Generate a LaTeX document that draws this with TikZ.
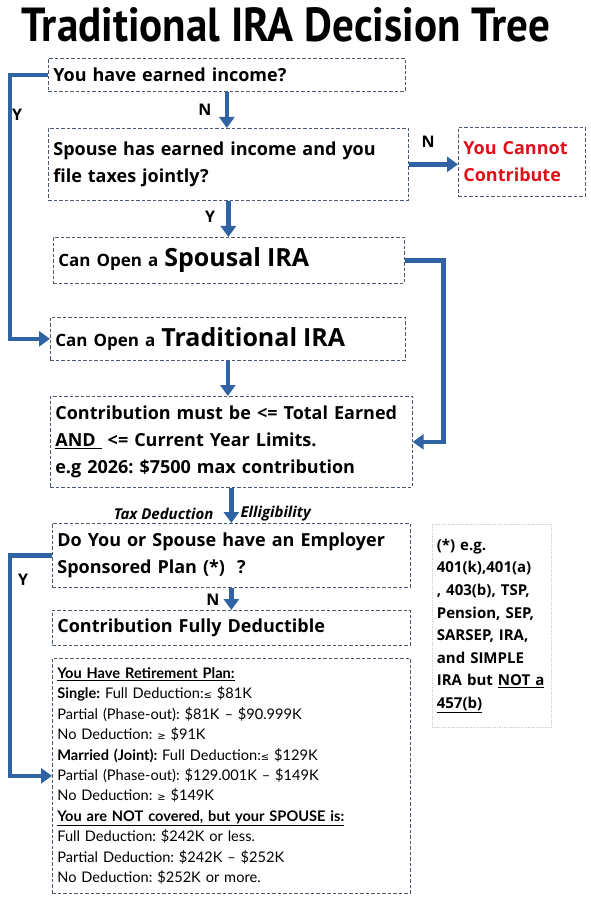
\documentclass[tikz,border=0pt]{standalone}
\usepackage{fontspec}
\setmainfont{Open Sans}
\newfontfamily\detailfont{Lato}
\newfontfamily\symfont{DejaVu Sans}
\newfontfamily\titlefont{PT Sans}
\usetikzlibrary{arrows.meta}
\definecolor{flowblue}{HTML}{2F63A3}
\definecolor{nored}{HTML}{E0101A}
\definecolor{boxline}{HTML}{4D5B6E}
\newcommand{\lesym}{{\symfont\fontsize{10}{10}\selectfont ≤}}
\newcommand{\gesym}{{\symfont\fontsize{10}{10}\selectfont ≥}}
\frenchspacing

\begin{document}
\begin{tikzpicture}[x=1pt,y=-1pt,
  box/.style={draw=boxline, dash pattern=on 3.5pt off 2pt, line width=0.7pt,
    anchor=north west, align=left, inner xsep=5pt, inner ysep=0pt,
    font=\bfseries\fontsize{18}{27}\selectfont},
  flow/.style={draw=flowblue, line width=4.5pt, -{Triangle[length=11pt,width=15pt]}},
  lbl/.style={font=\bfseries\fontsize{16}{18}\selectfont},
  tag/.style={font=\bfseries\itshape\fontsize{15}{16}\selectfont}]
  \useasboundingbox[fill=white] (0,0) rectangle (590,901);
  \node[anchor=base] (title) at (286,42)
    {\resizebox{528pt}{34pt}{\titlefont\bfseries Traditional IRA Decision Tree}};

  % question boxes
  \node[box, text width=347, minimum height=33] (earn) at (48,58) {You have earned income?};
  \node[box, text width=350, minimum height=72] (spouse) at (48,128)
    {Spouse has earned income and you\\file taxes jointly?};
  \node[box, text width=117, minimum height=69, text=nored] (cannot) at (458,127)
    {You Cannot\\Contribute};
  \node[box, text width=341, minimum height=46] (spousal) at (53,237)
    {{\fontsize{17}{27}\selectfont Can Open a} {\fontsize{25}{27}\selectfont Spousal IRA}};
  \node[box, text width=345, minimum height=43] (trad) at (50,317)
    {{\fontsize{17}{27}\selectfont Can Open a} {\fontsize{25}{27}\selectfont Traditional IRA}};
  \node[box, text width=352, minimum height=91] (contrib) at (50,396)
    {Contribution must be <= Total Earned\\\underline{AND\ } <= Current Year Limits.\\e.g 2026: \$7500 max contribution};
  \node[box, text width=348, minimum height=64] (employer) at (52,523)
    {Do You or Spouse have an Employer\\Sponsored Plan (*)\ \ ?};
  \node[box, text width=348, minimum height=35] (fully) at (52,610)
    {Contribution Fully Deductible};
  \node[box, text width=348, minimum height=235, font=\detailfont\fontsize{14.6}{20.4}\selectfont] (plan) at (52,658)
    {\textbf{\underline{You Have Retirement Plan:}}\\
     \textbf{Single:} Full Deduction:\lesym\ \$81K\\
     Partial (Phase-out): \$81K – \$90.999K\\
     No Deduction: \gesym\ \$91K\\
     \textbf{Married (Joint):} Full Deduction:\lesym\ \$129K\\
     Partial (Phase-out): \$129.001K – \$149K\\
     No Deduction: \gesym\ \$149K\\
     \textbf{\underline{You are NOT covered, but your SPOUSE is:}}\\
     Full Deduction: \$242K or less.\\
     Partial Deduction: \$242K – \$252K\\
     No Deduction: \$252K or more.};
  \node[box, draw=gray!35, densely dotted, text width=110, inner xsep=4.5pt, minimum height=203,
    font=\bfseries\fontsize{15}{22.6}\selectfont] (note) at (432,524)
    {(*) e.g.\\401(k),401(a)\\, 403(b), TSP,\\Pension, SEP,\\SARSEP, IRA,\\and SIMPLE\\\mbox{IRA but \underline{NOT a}}\\\underline{457(b)}\\[8pt]};

  % connectors
  \draw[flow] (earn.south) -- (earn.south |- spouse.north);
  \node[lbl] (n1) at (205,110) {N};
  \draw[flow] (spouse.east) -- (spouse.east -| cannot.west);
  \node[lbl] (n2) at (428,142) {N};
  \draw[flow] (spouse.south) -- (spouse.south |- spousal.north);
  \node[lbl] (y1) at (210,217) {Y};
  \draw[flow] (earn.west) -- ++(-38,0) |- (trad.west);
  \node[lbl] (y2) at (17,115) {Y};
  \draw[flow] (spousal.east) -- ++(39,0) |- (contrib.east);
  \draw[flow] (trad.south) -- (trad.south |- contrib.north);
  \draw[flow] (contrib.south) -- (contrib.south |- employer.north);
  \node[tag, anchor=east] (tax) at (217,514) {Tax Deduction};
  \node[tag, anchor=west] (elig) at (237,514) {Elligibility};
  \draw[flow] (employer.south) -- (employer.south |- fully.north);
  \node[lbl] (n3) at (213,600) {N};
  \draw[flow] (employer.west) -- ++(-42,0) |- (plan.west);
  \node[lbl] (y3) at (23,580) {Y};
\end{tikzpicture}
\end{document}
